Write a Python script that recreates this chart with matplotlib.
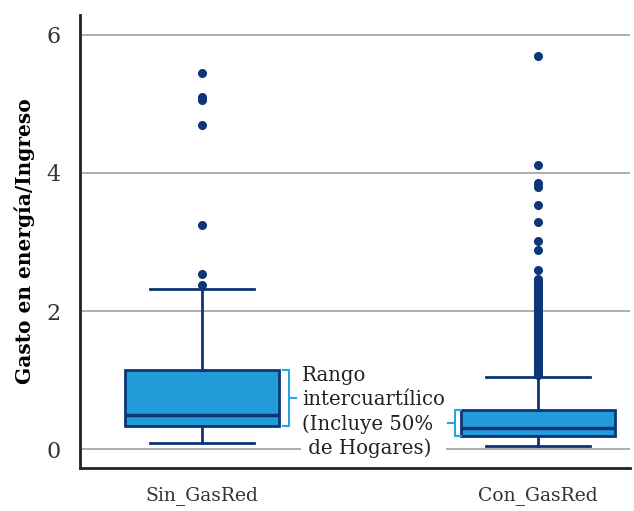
import numpy as np
import matplotlib
matplotlib.use("Agg")
import matplotlib.pyplot as plt

# box statistics
groups = ["Sin_GasRed", "Con_GasRed"]
q1 = [0.33, 0.19]
med = [0.49, 0.30]
q3 = [1.145, 0.565]
whislo = [0.09, 0.04]
whishi = [2.32, 1.04]

out_sin = [5.45, 5.10, 5.05, 4.70, 3.25, 2.54, 2.38]
out_con = [5.70, 4.12, 3.85, 3.80, 3.53, 3.29, 3.01, 2.88, 2.59,
           2.47, 2.44, 2.41, 2.38, 2.35, 2.32, 2.29, 2.26, 2.23, 2.20,
           2.17, 2.14, 2.11, 2.08, 2.05, 2.02, 1.99, 1.96, 1.93, 1.90,
           1.87, 1.84, 1.81, 1.78, 1.75, 1.72, 1.69, 1.66, 1.63, 1.60,
           1.57, 1.54, 1.51, 1.48, 1.45, 1.42, 1.39, 1.36, 1.33, 1.30,
           1.27, 1.24, 1.21, 1.18, 1.15, 1.12, 1.09, 1.07]
outliers = [out_sin, out_con]

navy = "#0c3676"
fill = "#229bd8"
bracket = "#2aa3e0"
serif = "DejaVu Serif"

stats = []
for i, g in enumerate(groups):
    stats.append(dict(label=g, q1=q1[i], med=med[i], q3=q3[i],
                      whislo=whislo[i], whishi=whishi[i], fliers=outliers[i]))

fig = plt.figure(figsize=(6.34, 5.11), dpi=100)
ax = fig.add_axes([0.126, 0.084, 0.868, 0.887])

ax.bxp(stats, positions=[1, 2], widths=0.458, capwidths=0.31, patch_artist=True,
       boxprops=dict(facecolor=fill, edgecolor=navy, linewidth=2),
       medianprops=dict(color=navy, linewidth=2.5),
       whiskerprops=dict(color=navy, linewidth=2),
       capprops=dict(color=navy, linewidth=2),
       flierprops=dict(marker="o", markerfacecolor=navy, markeredgecolor=navy,
                       markersize=5.5, linestyle="none"),
       zorder=3)

ax.set_xlim(0.637, 2.274)
ax.set_ylim(-0.275, 6.29)
ax.set_yticks([0, 2, 4, 6])
ax.yaxis.grid(True, color="#a0a0a0", linewidth=1.2, zorder=0)
ax.set_axisbelow(True)
for s in ["top", "right"]:
    ax.spines[s].set_visible(False)
for s in ["left", "bottom"]:
    ax.spines[s].set_linewidth(2)
    ax.spines[s].set_color("#222222")
ax.tick_params(length=0)
ax.tick_params(axis="y", labelsize=16, pad=14, colors="#333333")
ax.tick_params(axis="x", labelsize=13.5, pad=13, colors="#333333")
for lab in ax.get_xticklabels() + ax.get_yticklabels():
    lab.set_family(serif)

ax.set_ylabel("Gasto en energía/Ingreso", family=serif, fontweight="bold",
              fontsize=14.5, labelpad=8)

# bracket for the first box (opens left, tick to the right)
bx = 1.259
ax.plot([bx - 0.019, bx, bx, bx - 0.019], [q3[0], q3[0], q1[0], q1[0]],
        color=bracket, lw=1.5, zorder=6)
ax.plot([bx, bx + 0.021], [(q1[0] + q3[0]) / 2] * 2, color=bracket, lw=1.5, zorder=6)

# bracket for the second box (opens right, tick to the left)
cx = 1.753
ax.plot([cx + 0.019, cx, cx, cx + 0.019], [q3[1], q3[1], q1[1], q1[1]],
        color=bracket, lw=1.5, zorder=6)
ax.plot([cx, cx - 0.021], [(q1[1] + q3[1]) / 2] * 2, color=bracket, lw=1.5, zorder=6)

ax.text(1.298, 1.20, "Rango\nintercuartílico\n(Incluye 50%\n de Hogares)",
        family=serif, fontsize=14.2, color="#222222", va="top", ha="left",
        linespacing=1.32, zorder=5,
        bbox=dict(facecolor="white", edgecolor="none", pad=1))

fig.savefig("out.png", dpi=100)
